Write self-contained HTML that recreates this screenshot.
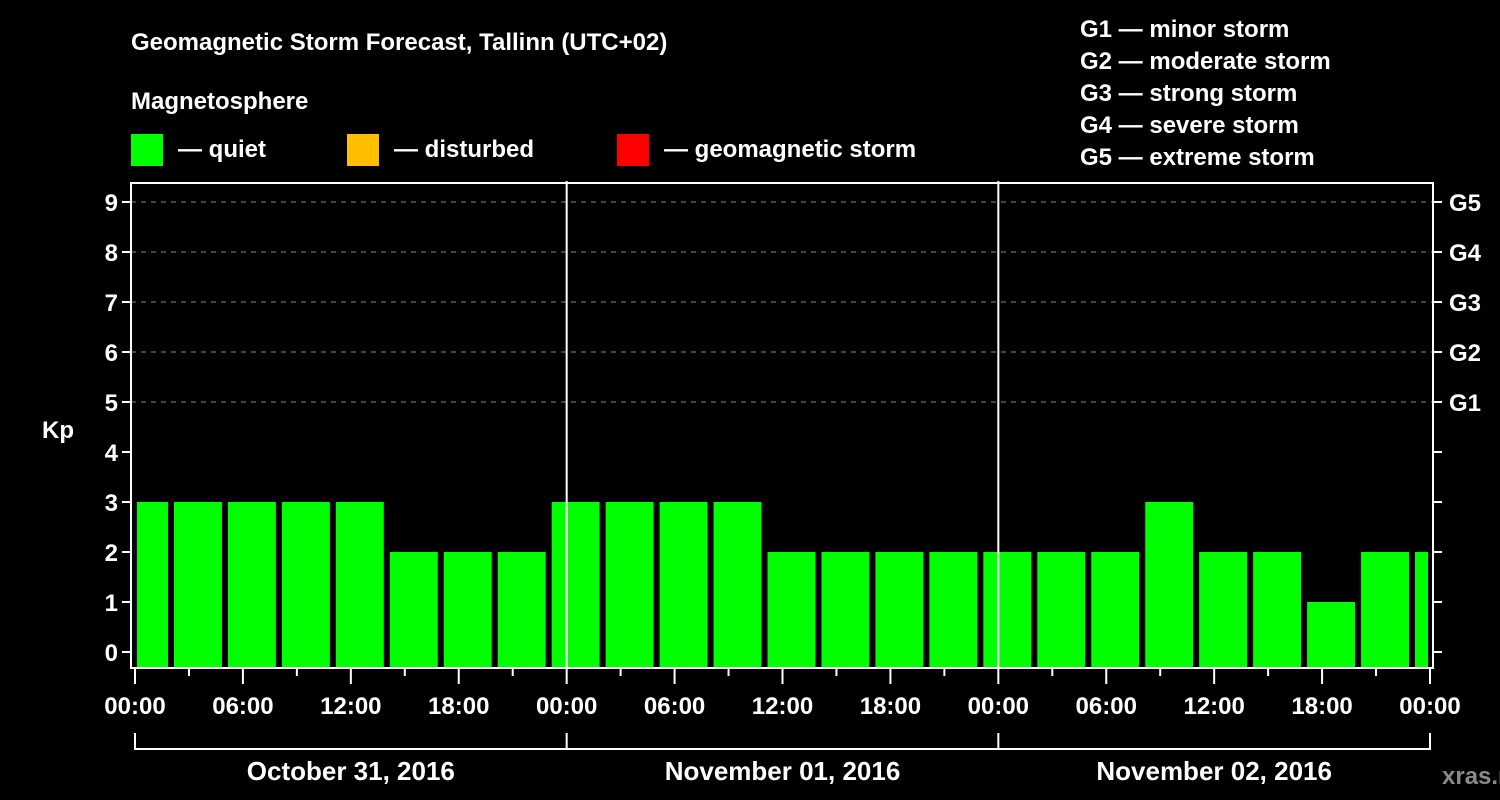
<!DOCTYPE html>
<html><head><meta charset="utf-8"><style>
html,body{margin:0;padding:0;background:#000;width:1500px;height:800px;overflow:hidden}
svg text{font-family:"Liberation Sans",Arial,sans-serif;font-weight:bold;fill:#fff}
</style></head><body>
<svg id="chart" width="1500" height="800" xmlns="http://www.w3.org/2000/svg">
<text x="131" y="50" font-size="24">Geomagnetic Storm Forecast, Tallinn (UTC+02)</text>
<text x="131" y="109" font-size="24">Magnetosphere</text>
<g><rect x="131" y="134" width="32" height="32" fill="#00ff00"/><text x="178" y="157" font-size="24">— quiet</text></g>
<g><rect x="347" y="134" width="32" height="32" fill="#ffbf00"/><text x="394" y="157" font-size="24">— disturbed</text></g>
<g><rect x="617" y="134" width="32" height="32" fill="#ff0000"/><text x="664" y="157" font-size="24">— geomagnetic storm</text></g>
<g font-size="24">
<text x="1080" y="37">G1 — minor storm</text>
<text x="1080" y="69">G2 — moderate storm</text>
<text x="1080" y="101">G3 — strong storm</text>
<text x="1080" y="133">G4 — severe storm</text>
<text x="1080" y="165">G5 — extreme storm</text>
</g>
<text x="42" y="438" font-size="24">Kp</text>
<text x="1442" y="784" font-size="24" fill="#888" style="fill:#8a8a8a">xras.ru</text>
<g id="grid"></g><g id="bars"></g><g id="axes"></g>
</svg>
<script>
const values=[3,3,3,3,3,2,2,2,3,3,3,3,2,2,2,2,2,2,2,3,2,2,1,2,2];
const yTicks=[0,1,2,3,4,5,6,7,8,9];
const gLabels=["G1","G2","G3","G4","G5"];
const xTickLabels=["00:00","06:00","12:00","18:00","00:00","06:00","12:00","18:00","00:00","06:00","12:00","18:00","00:00"];
const days=["October 31, 2016","November 01, 2016","November 02, 2016"];
const NS="http://www.w3.org/2000/svg";
const L=131,R=1433,T=183,B=668,X0=135,PXH=1295/72;
const y=v=>652-v*50, x=h=>X0+h*PXH;
function mk(tag,attrs,parent,txt){const e=document.createElementNS(NS,tag);for(const k in attrs)e.setAttribute(k,attrs[k]);if(txt!==undefined)e.textContent=txt;parent.appendChild(e);return e;}
const grid=document.getElementById('grid'),bars=document.getElementById('bars'),axes=document.getElementById('axes');
for(let v=5;v<=9;v++){const g=mk('line',{x1:L,x2:R,y1:y(v),y2:y(v),stroke:'#888','stroke-dasharray':'5,5','stroke-width':1},grid);

}
values.forEach((v,i)=>{let h0=-1+3*i,x1=x(h0)+3,x2=x(h0+3)-3;x1=Math.max(x1,L+6);x2=Math.min(x2,x(72)-2);
const r=mk('rect',{x:x1,y:y(v),width:x2-x1,height:B-y(v),fill:v>=5?'#ff0000':(v>=4?'#ffbf00':'#00ff00')},bars);

});
mk('rect',{x:L,y:T,width:R-L,height:B-T,fill:'none',stroke:'#fff','stroke-width':2},axes);
[1,2].forEach(d=>{const l=mk('line',{x1:x(24*d),x2:x(24*d),y1:181,y2:B,stroke:'#fff','stroke-width':2},axes);

});
yTicks.forEach(v=>{mk('line',{x1:L-9,x2:L,y1:y(v),y2:y(v),stroke:'#fff','stroke-width':2},axes);
mk('line',{x1:R,x2:R+9,y1:y(v),y2:y(v),stroke:'#fff','stroke-width':2},axes);
const t=mk('text',{x:L-13,y:y(v)+9,'font-size':24,'text-anchor':'end'},axes,String(v));

});
gLabels.forEach((g,i)=>{const t=mk('text',{x:1449,y:y(5+i)+9,'font-size':24},axes,g);

});
for(let h=0;h<=72;h+=3){const maj=h%6==0;mk('line',{x1:x(h),x2:x(h),y1:B,y2:B+(maj?16:8),stroke:'#fff','stroke-width':2},axes);}
xTickLabels.forEach((s,i)=>{const t=mk('text',{x:x(6*i),y:714,'font-size':24,'text-anchor':'middle'},axes,s);

});
mk('line',{x1:x(0),x2:x(72),y1:749,y2:749,stroke:'#fff','stroke-width':2},axes);
for(let d=0;d<=3;d++)mk('line',{x1:x(24*d),x2:x(24*d),y1:733,y2:750,stroke:'#fff','stroke-width':2},axes);
days.forEach((s,i)=>{const t=mk('text',{x:x(24*i+12),y:780,'font-size':26,'text-anchor':'middle'},axes,s);

});
</script>
</body></html>
